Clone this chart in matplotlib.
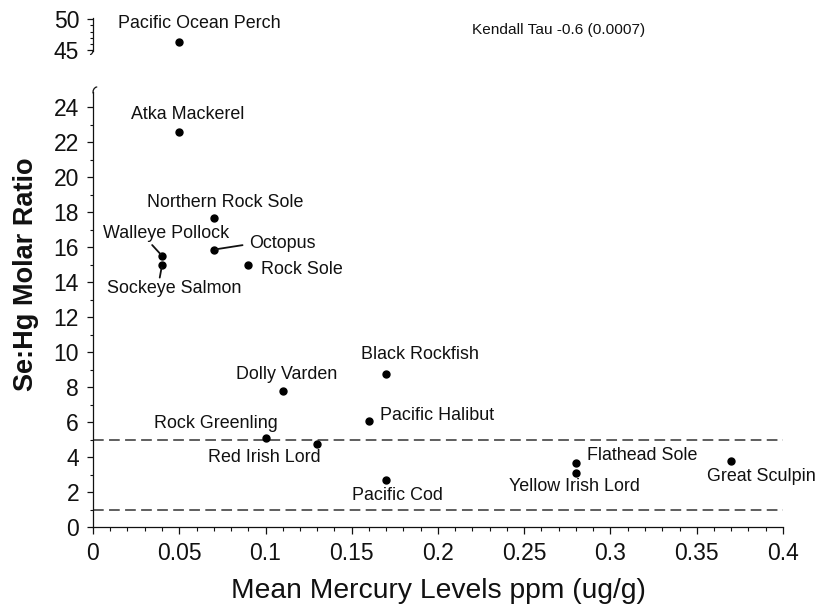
import matplotlib
matplotlib.use('Agg')
import matplotlib.pyplot as plt
from matplotlib.ticker import MultipleLocator, FixedLocator, FixedFormatter
from matplotlib.lines import Line2D

plt.rcParams['font.family'] = ['Liberation Sans', 'DejaVu Sans']

# ---------------- data ----------------
species = ['Pacific Ocean Perch', 'Atka Mackerel', 'Northern Rock Sole',
           'Walleye Pollock', 'Sockeye Salmon', 'Octopus', 'Rock Sole',
           'Dolly Varden', 'Black Rockfish', 'Pacific Halibut',
           'Rock Greenling', 'Red Irish Lord', 'Pacific Cod',
           'Flathead Sole', 'Yellow Irish Lord', 'Great Sculpin']
mercury = [0.05, 0.05, 0.07, 0.04, 0.04, 0.07, 0.09, 0.11, 0.17, 0.16,
           0.10, 0.13, 0.17, 0.28, 0.28, 0.37]
se_hg = [46.35, 22.6, 17.65, 15.5, 14.95, 15.85, 14.95, 7.8, 8.75, 6.05,
         5.1, 4.75, 2.7, 3.65, 3.1, 3.8]
reference_lines = [5, 1]
x_ticks = [0, 0.05, 0.1, 0.15, 0.2, 0.25, 0.3, 0.35, 0.4]
x_tick_labels = ['0', '0.05', '0.1', '0.15', '0.2', '0.25', '0.3', '0.35', '0.4']
lower_y_ticks = [0, 2, 4, 6, 8, 10, 12, 14, 16, 18, 20, 22, 24]
upper_y_ticks = [45, 50]
x_label = 'Mean Mercury Levels ppm (ug/g)'
y_label = 'Se:Hg Molar Ratio'
stat_text = 'Kendall Tau -0.6 (0.0007)'

# label layout: (dx px, dy px, ha, leader relpos or None)
label_layout = {
    'Pacific Ocean Perch': (20.5, 18.7, 'center', None),
    'Atka Mackerel': (8.5, 16.7, 'center', None),
    'Northern Rock Sole': (11, 16, 'center', None),
    'Walleye Pollock': (4, 22, 'center', (0.37, 0.0)),
    'Sockeye Salmon': (12, -23.5, 'center', (0.39, 1.0)),
    'Octopus': (35, 6.3, 'left', (0.0, 0.45)),
    'Rock Sole': (13, -4.3, 'left', None),
    'Dolly Varden': (4, 15.7, 'center', None),
    'Black Rockfish': (34, 19, 'center', None),
    'Pacific Halibut': (11, 5.7, 'left', None),
    'Rock Greenling': (-50, 14, 'center', None),
    'Red Irish Lord': (-53, -14, 'center', None),
    'Pacific Cod': (11, -16, 'center', None),
    'Flathead Sole': (11, 8, 'left', None),
    'Yellow Irish Lord': (-2, -14, 'center', None),
    'Great Sculpin': (30, -16, 'center', None),
}

W, H = 820, 605
fig = plt.figure(figsize=(W / 100, H / 100), dpi=100)
fig.patch.set_facecolor('white')

def fx(px):
    return px / W

def fy(py):
    return 1 - py / H

ink = '#111111'
spine_lw = 0.9

# lower axes
ax = fig.add_axes([fx(93), fy(527), fx(783) - fx(93), fy(92) - fy(527)])
ax.set_xlim(0, 0.4)
ax.set_ylim(0, (527 - 92) / 17.5)
# upper axes
ax2 = fig.add_axes([fx(93), fy(51), fx(783) - fx(93), fy(18.3) - fy(51)])
ax2.set_xlim(0, 0.4)
ax2.set_ylim(45 - 1 / 6.14, 50 + 1 / 6.14)

for a in (ax, ax2):
    a.patch.set_alpha(0)
    for s in ('top', 'right'):
        a.spines[s].set_visible(False)
    a.spines['left'].set_linewidth(spine_lw)
    a.spines['left'].set_color(ink)
    a.spines['bottom'].set_linewidth(spine_lw)
    a.spines['bottom'].set_color(ink)

ax2.spines['bottom'].set_visible(False)
ax2.set_xticks([])

ax.xaxis.set_major_locator(FixedLocator(x_ticks))
ax.xaxis.set_major_formatter(FixedFormatter(x_tick_labels))
ax.xaxis.set_minor_locator(MultipleLocator(0.01))
ax.yaxis.set_major_locator(FixedLocator(lower_y_ticks))
ax.yaxis.set_minor_locator(MultipleLocator(1))
ax2.yaxis.set_major_locator(FixedLocator(upper_y_ticks))
ax2.yaxis.set_minor_locator(MultipleLocator(1))

ax.tick_params(axis='x', which='major', direction='out', length=5, width=0.9,
               pad=6, labelsize=16.5, colors=ink)
ax.tick_params(axis='x', which='minor', direction='out', length=3, width=0.8, colors=ink)
for a in (ax, ax2):
    a.tick_params(axis='y', which='major', direction='out', length=4, width=0.9,
                  pad=6, labelsize=16.5, colors=ink)
    a.tick_params(axis='y', which='minor', direction='out', length=2.5, width=0.8,
                  colors=ink)

# reference lines
for v in reference_lines:
    ax.axhline(v, color='#333333', lw=1.1, dashes=(7, 3.5), zorder=1)

# points
lower_x = [x for x, y in zip(mercury, se_hg) if y < 30]
lower_y = [y for y in se_hg if y < 30]
upper_x = [x for x, y in zip(mercury, se_hg) if y >= 30]
upper_y = [y for y in se_hg if y >= 30]
ax.plot(lower_x, lower_y, 'o', color='black', ms=5, zorder=3, clip_on=False)
ax2.plot(upper_x, upper_y, 'o', color='black', ms=5, zorder=3, clip_on=False)

# labels
for name, x, y in zip(species, mercury, se_hg):
    dx, dy, ha, rel = label_layout[name]
    target = ax2 if y >= 30 else ax
    kw = {}
    if rel is not None:
        kw['arrowprops'] = dict(arrowstyle='-', color=ink, lw=1.3,
                                shrinkA=2.5 if ha == 'left' else 0, shrinkB=1.5,
                                relpos=rel)
    target.annotate(name, xy=(x, y), xytext=(dx, dy), textcoords='offset pixels',
                    ha=ha, va='center', fontsize=12.9, color=ink,
                    annotation_clip=False, **kw)

# axis labels and stat text
fig.text(fx(438), fy(598), x_label, ha='center', va='baseline',
         fontsize=20.3, color=ink)
fig.text(fx(26), fy(274), y_label, ha='center', va='center', rotation=90,
         fontsize=19.5, fontweight='bold', color=ink)
fig.text(fx(472), fy(30), stat_text, ha='left', va='center', fontsize=11.1,
         color=ink)

# axis break marks
def fig_line(pts):
    xs = [fx(p[0]) for p in pts]
    ys = [fy(p[1]) for p in pts]
    fig.add_artist(Line2D(xs, ys, transform=fig.transFigure, color=ink,
                          lw=spine_lw, solid_capstyle='round'))

fig_line([(93, 50.5), (92.6, 52.5), (91.5, 54), (90.5, 54.5)])
fig_line([(93, 93), (93.2, 90.5), (94.2, 88.5), (95.8, 87.2), (96.8, 87)])

fig.savefig('out.png', dpi=100, facecolor='white')
